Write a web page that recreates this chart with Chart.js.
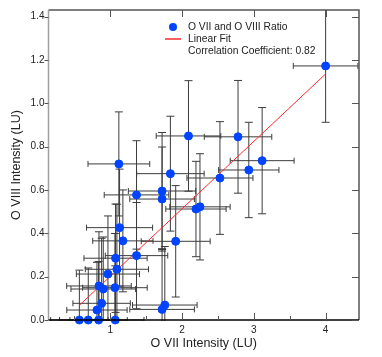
<!DOCTYPE html>
<html>
<head>
<meta charset="utf-8">
<script src="https://cdn.jsdelivr.net/npm/chart.js@4.4.1/dist/chart.umd.min.js"></script>
<style>
  body { margin: 0; background: #fff; }
  canvas { display: block; }
</style>
</head>
<body>
<canvas id="scatterChart" width="382" height="357"></canvas>
<script>
// O VII / O VIII intensities (LU) with their errors
const o7 = [4.00, 2.09, 2.78, 1.12, 1.838, 2.528, 2.93, 3.116, 1.366, 1.722, 1.722,
            2.194, 2.25, 1.13, 1.176, 1.912, 1.366, 1.074, 1.093, 0.968, 0.843, 0.903,
            1.065, 0.88, 0.815, 1.722, 1.76, 0.57, 0.694, 0.838, 1.07];
const o8 = [1.172, 0.849, 0.845, 0.72, 0.675, 0.655, 0.692, 0.735, 0.577, 0.595, 0.558,
            0.512, 0.522, 0.426, 0.365, 0.363, 0.297, 0.285, 0.234, 0.212, 0.157, 0.143,
            0.149, 0.077, 0.046, 0.049, 0.069, 0, 0, 0, 0];
const o7Err = [0.45, 0.45, 0.47, 0.43, 0.47, 0.46, 0.42, 0.445, 0.45, 0.47, 0.45,
               0.42, 0.42, 0.46, 0.42, 0.48, 0.435, 0.44, 0.44, 0.44, 0.45, 0.45,
               0.45, 0.40, 0.42, 0.45, 0.45, 0.40, 0.40, 0.40, 0.40];
const o8Err = [0.26, 0.255, 0.26, 0.24, 0.265, 0.26, 0.22, 0.245, 0.25, 0.27, 0.24,
               0.22, 0.245, 0.27, 0.235, 0.257, 0.245, 0.25, 0.30, 0.268, 0.25, 0.24,
               0.25, 0.30, 0.22, 0.28, 0.27, 0.23, 0.24, 0.27, 0.25];

// linear fit end points
const fitX = [0.574, 4.0];
const fitY = [0.069, 1.135];
const fitLabel = 'Correlation Coefficient: 0.82';

const xTicks = [1, 2, 3, 4];
const xMinorTicks = [0.5, 1.5, 2.5, 3.5];
const yTicks = [0, 0.2, 0.4, 0.6, 0.8, 1.0, 1.2, 1.4];

const FONT = '"Liberation Sans", Arial, Helvetica, sans-serif';
const BLUE = '#0044ff';
const RED = '#ff2a2a';

// error bars, drawn under the points
const errorBars = {
    id: 'errorBars',
    beforeDatasetsDraw(chart) {
        const {ctx, chartArea, scales: {x, y}} = chart;
        ctx.save();
        ctx.beginPath();
        ctx.rect(chartArea.left, chartArea.top, chartArea.right - chartArea.left, chartArea.bottom - chartArea.top + 1);
        ctx.clip();
        ctx.strokeStyle = '#3c3c3c';
        ctx.lineWidth = 1;
        o7.forEach((v, i) => {
            const px = x.getPixelForValue(v);
            const py = y.getPixelForValue(o8[i]);
            const x0 = x.getPixelForValue(v - o7Err[i]);
            const x1 = x.getPixelForValue(v + o7Err[i]);
            const y0 = y.getPixelForValue(o8[i] - o8Err[i]);
            const y1 = y.getPixelForValue(o8[i] + o8Err[i]);
            ctx.beginPath();
            ctx.moveTo(x0, py); ctx.lineTo(x1, py);
            ctx.moveTo(x0, py - 3); ctx.lineTo(x0, py + 3);
            ctx.moveTo(x1, py - 3); ctx.lineTo(x1, py + 3);
            ctx.moveTo(px, y0); ctx.lineTo(px, y1);
            ctx.moveTo(px - 4, y0); ctx.lineTo(px + 4, y0);
            ctx.moveTo(px - 4, y1); ctx.lineTo(px + 4, y1);
            ctx.stroke();
        });
        ctx.restore();
    }
};

// box frame with ticks + the legend block
const frameAndLegend = {
    id: 'frameAndLegend',
    afterDraw(chart) {
        const {ctx, chartArea: a, scales: {x, y}} = chart;
        ctx.save();
        // top + right
        ctx.strokeStyle = '#555';
        ctx.lineWidth = 1.5;
        ctx.beginPath();
        ctx.moveTo(a.left, a.top); ctx.lineTo(a.right, a.top); ctx.lineTo(a.right, a.bottom);
        ctx.stroke();
        // left
        ctx.strokeStyle = '#a0a0a0';
        ctx.beginPath();
        ctx.moveTo(a.left, a.top); ctx.lineTo(a.left, a.bottom);
        ctx.stroke();
        // bottom
        ctx.strokeStyle = '#000';
        ctx.beginPath();
        ctx.moveTo(a.left, a.bottom); ctx.lineTo(a.right, a.bottom);
        ctx.stroke();

        ctx.lineWidth = 1;
        ctx.strokeStyle = '#555';
        ctx.beginPath();
        yTicks.forEach(v => {
            const py = Math.round(y.getPixelForValue(v)) + 0.5;
            ctx.moveTo(a.left - 4, py); ctx.lineTo(a.left, py);
            ctx.moveTo(a.right - 7, py); ctx.lineTo(a.right, py);
        });
        xTicks.forEach(v => {
            const px = Math.round(x.getPixelForValue(v)) + 0.5;
            ctx.moveTo(px, a.top); ctx.lineTo(px, a.top + 7);
            ctx.moveTo(px, a.bottom); ctx.lineTo(px, a.bottom - 7);
        });
        xMinorTicks.forEach(v => {
            const px = Math.round(x.getPixelForValue(v)) + 0.5;
            ctx.moveTo(px, a.bottom); ctx.lineTo(px, a.bottom - 4);
        });
        ctx.stroke();

        // legend
        const lx = a.left + 139.5;
        const ly = a.top + 17;
        ctx.fillStyle = BLUE;
        ctx.beginPath();
        ctx.arc(lx - 15, ly, 4, 0, Math.PI * 2);
        ctx.fill();
        ctx.strokeStyle = RED;
        ctx.lineWidth = 1.5;
        ctx.beginPath();
        ctx.moveTo(lx - 23, ly + 12); ctx.lineTo(lx - 7, ly + 12);
        ctx.stroke();
        ctx.fillStyle = '#222';
        ctx.font = '10.3px ' + FONT;
        ctx.textBaseline = 'middle';
        ctx.textAlign = 'left';
        ctx.fillText(chart.data.datasets[0].label, lx, ly);
        ctx.fillText(chart.data.datasets[1].label, lx, ly + 12);
        ctx.fillText(fitLabel, lx, ly + 24);
        ctx.restore();
    }
};

const ctx = document.getElementById('scatterChart').getContext('2d');
new Chart(ctx, {
    type: 'scatter',
    data: {
        datasets: [{
            label: 'O VII and O VIII Ratio',
            data: o7.map((v, i) => ({x: v, y: o8[i]})),
            backgroundColor: BLUE,
            borderColor: BLUE,
            pointRadius: 4,
            pointHoverRadius: 4,
            clip: false,
            order: 0
        }, {
            type: 'line',
            label: 'Linear Fit',
            data: fitX.map((v, i) => ({x: v, y: fitY[i]})),
            borderColor: RED,
            borderWidth: 1,
            pointRadius: 0,
            fill: false,
            order: 1
        }]
    },
    options: {
        responsive: false,
        animation: false,
        layout: { padding: { top: 10, right: 23 } },
        plugins: {
            legend: { display: false },
            tooltip: { enabled: false }
        },
        scales: {
            x: {
                type: 'linear',
                min: 0.14,
                max: 4.465,
                afterBuildTicks: s => { s.ticks = xTicks.map(v => ({value: v})); },
                afterFit: s => { s.height = 37; },
                grid: { display: false, drawTicks: false },
                border: { display: false },
                ticks: { color: '#222', font: { family: FONT, size: 10 }, padding: 4, maxRotation: 0 },
                title: {
                    display: true,
                    text: 'O VII Intensity (LU)',
                    color: '#222',
                    font: { family: FONT, size: 12.5 },
                    padding: { top: 0, bottom: 6 }
                }
            },
            y: {
                min: 0,
                max: 1.43,
                afterBuildTicks: s => { s.ticks = yTicks.map(v => ({value: v})); },
                afterFit: s => { s.width = 48.5; },
                grid: { display: false, drawTicks: false },
                border: { display: false },
                ticks: {
                    color: '#222',
                    font: { family: FONT, size: 10 },
                    padding: 4,
                    callback: v => v.toFixed(1)
                },
                title: {
                    display: true,
                    text: 'O VIII Intensity (LU)',
                    color: '#222',
                    font: { family: FONT, size: 12.5 },
                    padding: { top: 9, bottom: 0 }
                }
            }
        }
    },
    plugins: [errorBars, frameAndLegend]
});
</script>
</body>
</html>
